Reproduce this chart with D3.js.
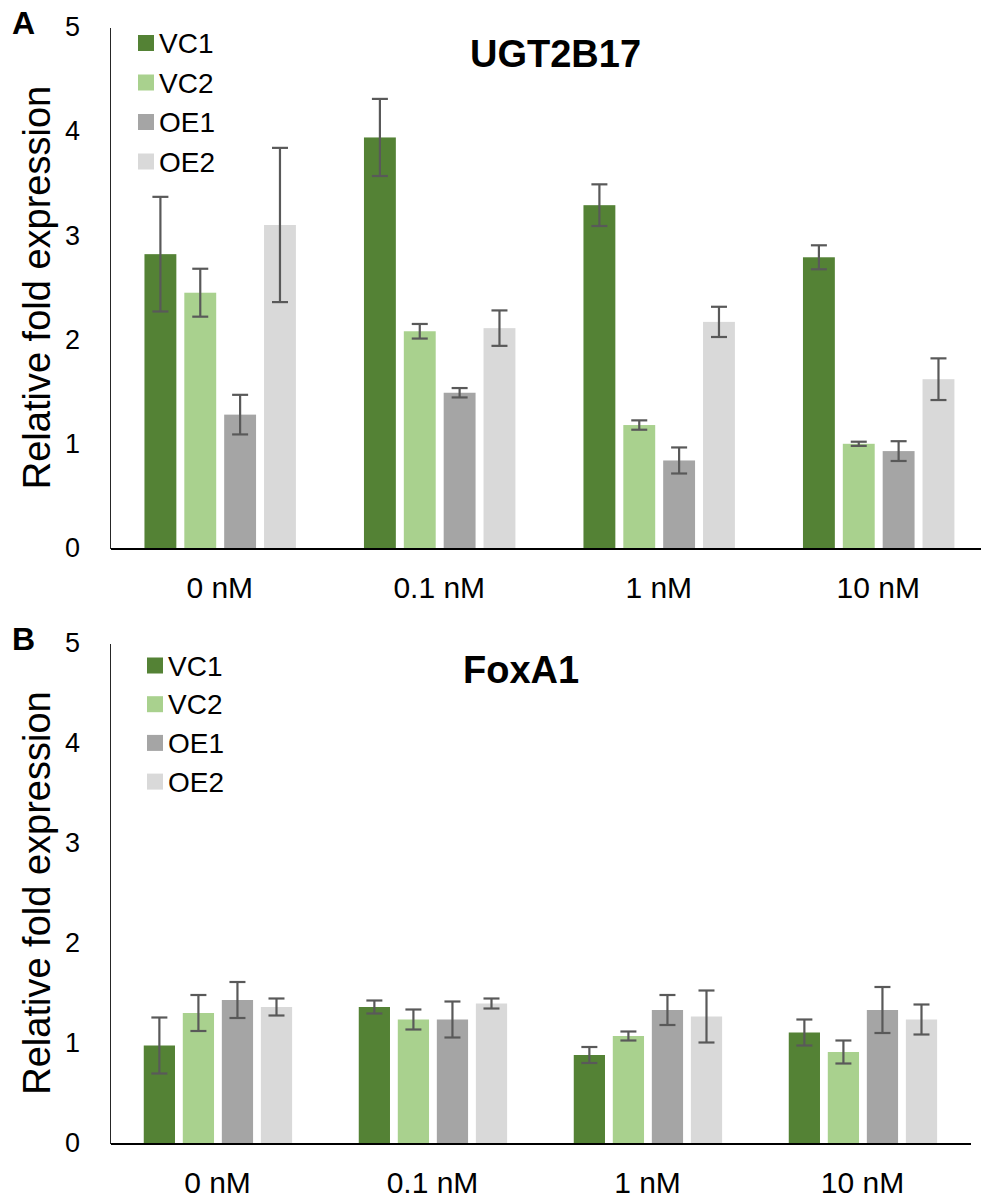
<!DOCTYPE html>
<meta charset="utf-8">
<style>
  body { margin: 0; background: #fff; }
  text { font-family: "Liberation Sans", Arial, sans-serif; fill: #000; }
  .domain { shape-rendering: crispEdges; }
</style>
<body>
<script src="https://d3js.org/d3.v7.min.js"></script>
<script>
  // categories and series
  var categories = ["0 nM", "0.1 nM", "1 nM", "10 nM"];
  var series = ["VC1", "VC2", "OE1", "OE2"];
  var colors = ["#548235", "#a9d18e", "#a5a5a5", "#d9d9d9"];
  var yTicks = [0, 1, 2, 3, 4, 5];

  // UGT2B17: rows = series, cols = categories
  var ugtMeans = [
    [2.82, 3.94, 3.29, 2.79],
    [2.45, 2.08, 1.18, 1.00],
    [1.28, 1.49, 0.84, 0.93],
    [3.10, 2.11, 2.17, 1.62]
  ];
  var ugtErr = [
    [0.55, 0.37, 0.20, 0.115],
    [0.23, 0.07, 0.045, 0.02],
    [0.19, 0.045, 0.125, 0.095],
    [0.74, 0.17, 0.145, 0.20]
  ];

  // FoxA1
  var foxMeans = [
    [0.975, 1.36, 0.88, 1.105],
    [1.30, 1.235, 1.07, 0.91],
    [1.43, 1.235, 1.33, 1.33],
    [1.36, 1.395, 1.265, 1.235]
  ];
  var foxErr = [
    [0.28, 0.065, 0.08, 0.13],
    [0.18, 0.10, 0.045, 0.115],
    [0.18, 0.18, 0.15, 0.23],
    [0.085, 0.05, 0.26, 0.15]
  ];

  var svg = d3.select("body").append("svg")
      .attr("width", 981)
      .attr("height", 1200);

  function drawPanel(opt) {
    var g = svg.append("g");

    var x0 = d3.scaleBand().domain(categories).range([110, opt.xEnd]);
    var bw = x0.bandwidth();
    var x1 = d3.scaleBand().domain(series)
        .range([0.157 * bw, 0.847 * bw])
        .paddingInner(0.2);
    var y = d3.scaleLinear().domain([0, 5]).range([opt.yBottom, opt.yTop]);

    // flatten to one row per bar
    var rows = [];
    series.forEach(function(s, i) {
      categories.forEach(function(c, j) {
        rows.push({ s: s, c: c, i: i, v: opt.means[i][j], e: opt.err[i][j] });
      });
    });

    g.selectAll("rect.bar")
      .data(rows)
      .enter().append("rect")
      .attr("class", "bar")
      .attr("x", function(d) { return x0(d.c) + x1(d.s); })
      .attr("y", function(d) { return y(d.v); })
      .attr("width", x1.bandwidth())
      .attr("height", function(d) { return y(0) - y(d.v); })
      .attr("fill", function(d) { return colors[d.i]; });

    // error bars
    var eb = g.selectAll("g.err")
      .data(rows)
      .enter().append("g")
      .attr("class", "err")
      .attr("stroke", "#595959")
      .attr("stroke-width", 2.2)
      .attr("transform", function(d) {
        return "translate(" + (x0(d.c) + x1(d.s) + x1.bandwidth() / 2) + ",0)";
      });
    eb.append("line")
      .attr("y1", function(d) { return y(d.v + d.e); })
      .attr("y2", function(d) { return y(d.v - d.e); });
    eb.append("line")
      .attr("x1", -8).attr("x2", 8)
      .attr("y1", function(d) { return y(d.v + d.e); })
      .attr("y2", function(d) { return y(d.v + d.e); });
    eb.append("line")
      .attr("x1", -8).attr("x2", 8)
      .attr("y1", function(d) { return y(d.v - d.e); })
      .attr("y2", function(d) { return y(d.v - d.e); });

    // y axis
    var ya = g.append("g")
      .attr("transform", "translate(110,0)")
      .call(d3.axisLeft(y).tickValues(yTicks).tickFormat(d3.format("d"))
        .tickSize(0).tickPadding(30));
    ya.select(".domain").attr("stroke", "#262626").attr("stroke-width", 1.5);
    ya.selectAll("text")
      .style("font-family", "'Liberation Sans', Arial, sans-serif")
      .style("font-size", "27px")
      .attr("fill", "#000");

    // x axis
    var xa = g.append("g")
      .attr("transform", "translate(0," + opt.yBottom + ")")
      .call(d3.axisBottom(x0).tickSize(0).tickPadding(28.5));
    xa.select(".domain").attr("stroke", "#000").attr("stroke-width", 2);
    xa.selectAll("text")
      .style("font-family", "'Liberation Sans', Arial, sans-serif")
      .style("font-size", "30px")
      .attr("fill", "#000");

    // y title
    g.append("text")
      .attr("transform", "translate(50," + ((opt.yTop + opt.yBottom) / 2) + ") rotate(-90)")
      .attr("text-anchor", "middle")
      .style("font-size", "38px")
      .text("Relative fold expression");

    // chart title
    g.append("text")
      .attr("x", opt.titleX)
      .attr("y", opt.yTop + 40)
      .style("font-size", "38px")
      .style("font-weight", "bold")
      .text(opt.title);

    // panel letter
    g.append("text")
      .attr("x", 12)
      .attr("y", opt.yTop + 7)
      .style("font-size", "32px")
      .style("font-weight", "bold")
      .text(opt.letter);

    // legend
    var lg = g.selectAll("g.leg")
      .data(series)
      .enter().append("g")
      .attr("class", "leg")
      .attr("transform", function(d, i) {
        return "translate(" + opt.legX + "," + (opt.legY + i * opt.legStep) + ")";
      });
    lg.append("rect")
      .attr("x", 0).attr("y", -8)
      .attr("width", 16).attr("height", 16)
      .attr("fill", function(d, i) { return colors[i]; });
    lg.append("text")
      .attr("x", 21)
      .attr("dy", "0.36em")
      .style("font-size", "28px")
      .text(function(d) { return d; });
  }

  drawPanel({
    means: ugtMeans, err: ugtErr,
    xEnd: 988, yTop: 27, yBottom: 548,
    title: "UGT2B17", titleX: 470, letter: "A",
    legX: 138, legY: 43, legStep: 39.5
  });

  drawPanel({
    means: foxMeans, err: foxErr,
    xEnd: 970, yTop: 643, yBottom: 1143,
    title: "FoxA1", titleX: 463, letter: "B",
    legX: 147, legY: 665.5, legStep: 38.7
  });
</script>
</body>
</html>
